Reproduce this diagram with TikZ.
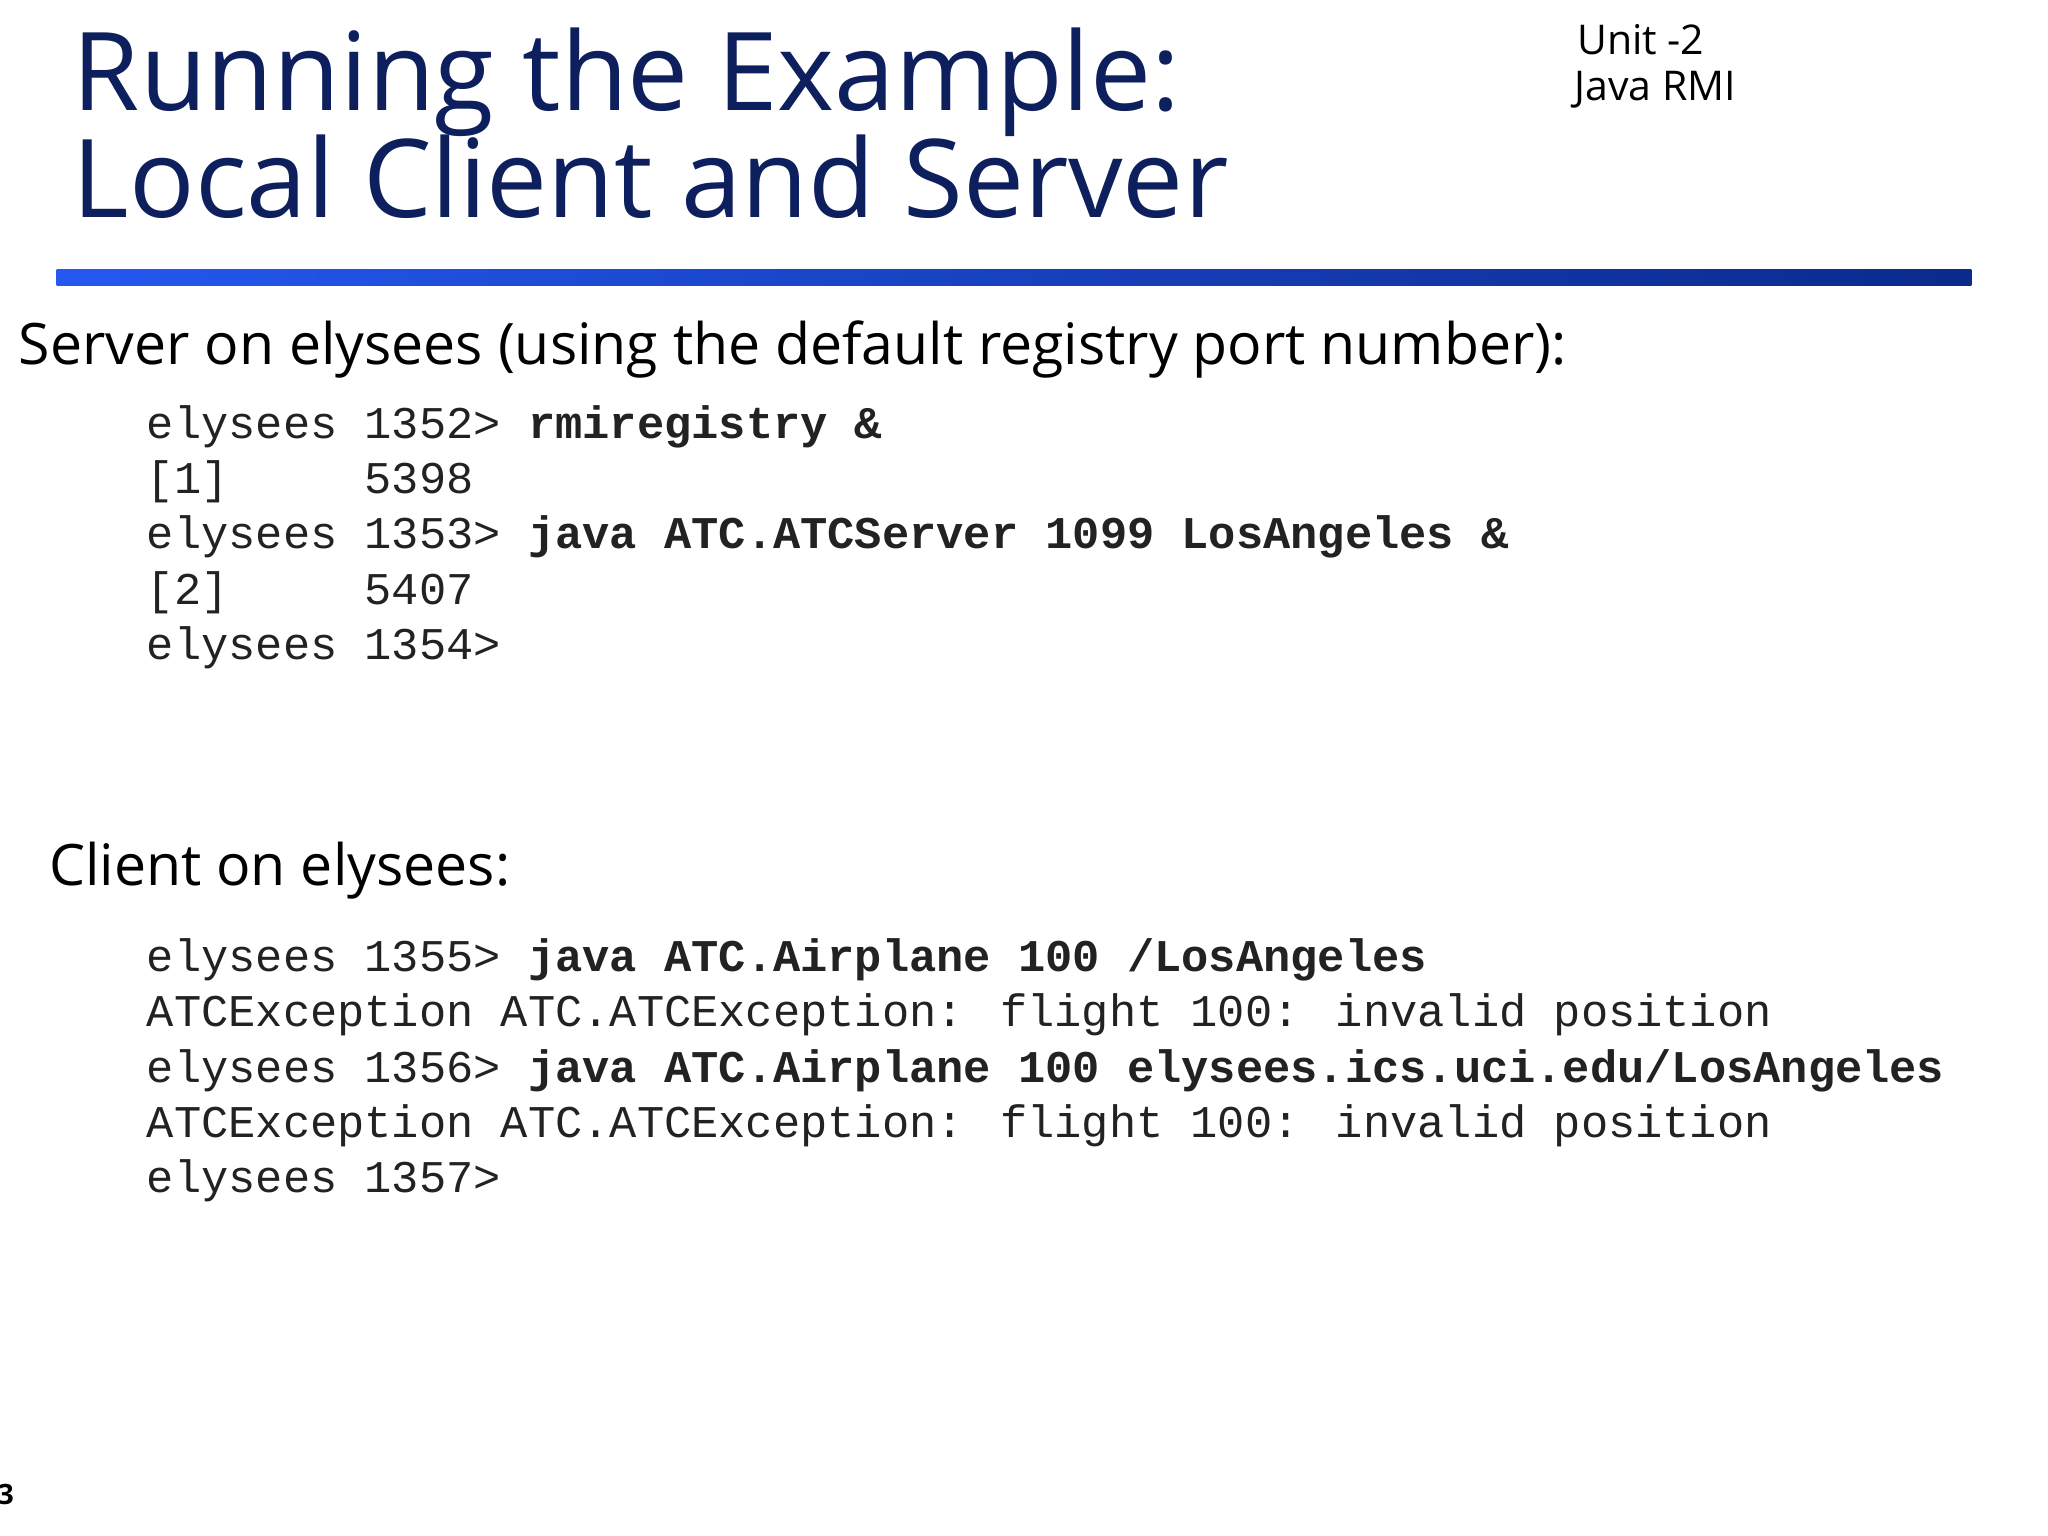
\documentclass[tikz,border=0pt]{standalone}
\usepackage{fontspec}
\setmainfont{Open Sans}
\newfontfamily\mono{Liberation Mono}
\definecolor{navy}{HTML}{0D1F5C}
\definecolor{barA}{HTML}{2458F0}
\definecolor{barB}{HTML}{0A2A8C}
\definecolor{code}{HTML}{222222}
\begin{document}
\begin{tikzpicture}[x=0.66pt,y=-0.66pt,
  txt/.style={anchor=base west,inner sep=0pt},
  title/.style={txt,font=\fontsize{54.4}{60}\selectfont,text=navy},
  head/.style={txt,font=\fontsize{28.6}{32}\selectfont,text=black},
  cl/.style={txt,font=\mono\fontsize{22.7}{26}\selectfont,text=code}]
\useasboundingbox (0,0) rectangle (1552,1164);
\node[title] (t1) at (55,84) {Running the Example:};
\node[title] (t2) at (55,165) {Local Client and Server};
\node[txt,font=\fontsize{20.5}{25}\selectfont] (u1) at (1195,41) {Unit -2};
\node[txt,font=\fontsize{20.5}{25}\selectfont] (u2) at (1193,76) {Java RMI};
\shade[left color=barA,right color=barB] (43,204) rectangle (1494,216);
\node[head] (h1) at (14,276) {Server on elysees (using the default registry port number):};
\node[cl] (s1) at (111,332) {elysees 1352> \textbf{rmiregistry \&}};
\node[cl] (s2) at (111,374) {[1]\ \ \ \ \ 5398};
\node[cl] (s3) at (111,416) {elysees 1353> \textbf{java ATC.ATCServer 1099 LosAngeles \&}};
\node[cl] (s4) at (111,458) {[2]\ \ \ \ \ 5407};
\node[cl] (s5) at (111,500) {elysees 1354>};
\node[head] (h2) at (37,671) {Client on elysees:};
\node[cl] (c1) at (111,736) {elysees 1355> \textbf{java ATC.Airplane 100 /LosAngeles}};
\node[cl] (c2) at (111,778) {ATCException ATC.ATCException: flight 100: invalid position};
\node[cl] (c3) at (111,820) {elysees 1356> \textbf{java ATC.Airplane 100 elysees.ics.uci.edu/LosAngeles}};
\node[cl] (c4) at (111,862) {ATCException ATC.ATCException: flight 100: invalid position};
\node[cl] (c5) at (111,904) {elysees 1357>};
\node[txt,font=\bfseries\fontsize{14}{16}\selectfont] (pg) at (-2,1140) {3};
\end{tikzpicture}
\end{document}
